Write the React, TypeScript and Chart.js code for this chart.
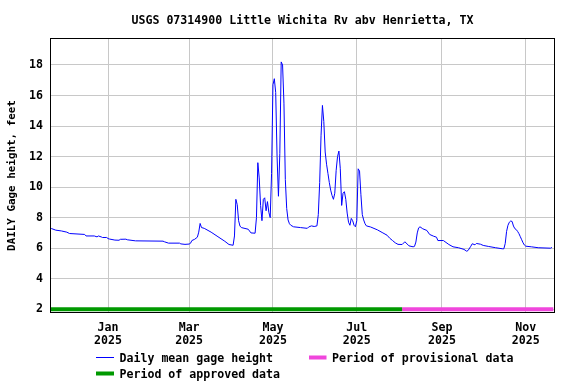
import React, { useEffect, useRef } from "react";
import { Chart, registerables } from "chart.js";

Chart.register(...registerables);

const TITLE = "USGS 07314900 Little Wichita Rv abv Henrietta, TX";
const Y_LABEL = "DAILY Gage height, feet";

// Daily mean gage height (feet)
const dates: string[] = [
  "2024-11-20", "2024-11-21", "2024-11-24", "2024-11-28", "2024-12-02", "2024-12-04",
  "2024-12-15", "2024-12-16", "2024-12-22", "2024-12-24", "2024-12-25", "2024-12-27",
  "2024-12-28", "2024-12-31", "2025-01-01", "2025-01-02", "2025-01-06", "2025-01-09",
  "2025-01-10", "2025-01-14", "2025-01-15", "2025-01-21", "2025-02-10", "2025-02-11",
  "2025-02-14", "2025-02-22", "2025-02-23", "2025-02-26", "2025-03-01", "2025-03-02",
  "2025-03-03", "2025-03-05", "2025-03-07", "2025-03-08", "2025-03-09", "2025-03-10",
  "2025-03-12", "2025-03-17", "2025-03-22", "2025-03-27", "2025-03-30", "2025-04-02",
  "2025-04-03", "2025-04-04", "2025-04-05", "2025-04-06", "2025-04-07", "2025-04-08",
  "2025-04-13", "2025-04-15", "2025-04-18", "2025-04-19", "2025-04-20", "2025-04-21",
  "2025-04-22", "2025-04-23", "2025-04-24", "2025-04-25", "2025-04-26", "2025-04-27",
  "2025-04-28", "2025-04-29", "2025-04-30", "2025-05-01", "2025-05-02", "2025-05-03",
  "2025-05-04", "2025-05-05", "2025-05-06", "2025-05-07", "2025-05-08", "2025-05-09",
  "2025-05-10", "2025-05-11", "2025-05-12", "2025-05-13", "2025-05-14", "2025-05-16",
  "2025-05-21", "2025-05-26", "2025-05-27", "2025-05-29", "2025-05-31", "2025-06-02",
  "2025-06-03", "2025-06-04", "2025-06-05", "2025-06-06", "2025-06-07", "2025-06-08",
  "2025-06-09", "2025-06-10", "2025-06-11", "2025-06-12", "2025-06-13", "2025-06-14",
  "2025-06-15", "2025-06-16", "2025-06-17", "2025-06-18", "2025-06-19", "2025-06-20",
  "2025-06-21", "2025-06-22", "2025-06-23", "2025-06-24", "2025-06-25", "2025-06-26",
  "2025-06-27", "2025-06-28", "2025-06-29", "2025-06-30", "2025-07-01", "2025-07-02",
  "2025-07-03", "2025-07-04", "2025-07-05", "2025-07-06", "2025-07-07", "2025-07-08",
  "2025-07-11", "2025-07-16", "2025-07-20", "2025-07-23", "2025-07-25", "2025-07-27",
  "2025-07-29", "2025-07-31", "2025-08-03", "2025-08-05", "2025-08-08", "2025-08-11",
  "2025-08-12", "2025-08-13", "2025-08-14", "2025-08-15", "2025-08-16", "2025-08-18",
  "2025-08-21", "2025-08-23", "2025-08-26", "2025-08-28", "2025-08-29", "2025-09-02",
  "2025-09-06", "2025-09-09", "2025-09-13", "2025-09-17", "2025-09-19", "2025-09-20",
  "2025-09-22", "2025-09-23", "2025-09-25", "2025-09-26", "2025-09-29", "2025-10-01",
  "2025-10-05", "2025-10-10", "2025-10-15", "2025-10-16", "2025-10-17", "2025-10-18",
  "2025-10-19", "2025-10-20", "2025-10-21", "2025-10-22", "2025-10-23", "2025-10-24",
  "2025-10-25", "2025-10-26", "2025-10-27", "2025-10-28", "2025-10-29", "2025-10-30",
  "2025-10-31", "2025-11-01", "2025-11-05", "2025-11-10", "2025-11-19", "2025-11-20",
];

const gageHeight: number[] = [
  7.3, 7.28, 7.18, 7.13, 7.05, 6.96,
  6.9, 6.8, 6.8, 6.74, 6.8, 6.74,
  6.7, 6.7, 6.63, 6.6, 6.53, 6.52,
  6.58, 6.59, 6.55, 6.48, 6.46, 6.42,
  6.33, 6.33, 6.28, 6.25, 6.27, 6.32,
  6.5, 6.58, 6.72, 7.05, 7.62, 7.35,
  7.3, 7.05, 6.75, 6.45, 6.24, 6.19,
  6.8, 9.2, 8.85, 7.8, 7.45, 7.35,
  7.24, 7.0, 6.98, 8.0, 11.6, 10.6,
  8.8, 7.8, 9.2, 9.3, 8.45, 9.05,
  8.35, 8.0, 10.9, 16.7, 17.1, 16.2,
  12.0, 9.4, 12.2, 18.2, 18.0, 15.5,
  10.5, 8.6, 7.85, 7.6, 7.5, 7.4,
  7.35, 7.3, 7.39, 7.46, 7.42, 7.46,
  8.2, 10.3, 13.4, 15.35, 14.3, 12.3,
  11.5, 10.9, 10.3, 9.8, 9.45, 9.2,
  9.6, 11.1, 12.0, 12.36, 11.2, 8.8,
  9.6, 9.7, 9.2, 8.3, 7.7, 7.5,
  7.95, 7.8, 7.5, 7.4, 7.8, 11.2,
  11.05, 9.5, 8.2, 7.85, 7.6, 7.46,
  7.39, 7.2, 7.0, 6.85, 6.65, 6.5,
  6.35, 6.25, 6.24, 6.42, 6.15, 6.09,
  6.12, 6.4, 7.0, 7.33, 7.4, 7.27,
  7.16, 6.9, 6.78, 6.72, 6.5, 6.5,
  6.24, 6.09, 6.03, 5.92, 5.8, 5.85,
  6.13, 6.29, 6.22, 6.31, 6.26, 6.18,
  6.11, 6.03, 5.96, 5.96, 6.3, 7.1,
  7.5, 7.7, 7.78, 7.75, 7.45, 7.28,
  7.22, 7.1, 6.95, 6.75, 6.55, 6.35,
  6.2, 6.13, 6.09, 6.03, 6.0, 6.05,
];

// Data-status periods (drawn as a bar at 2 ft)
const approvedPeriod: string[] = ["2024-11-20", "2025-08-03"];
const provisionalPeriod: string[] = ["2025-08-03", "2025-11-21"];
const periodLevel = 2;

// X axis ticks
const tickDates: string[] = ["2025-01-01", "2025-03-01", "2025-05-01", "2025-07-01", "2025-09-01", "2025-11-01"];
const tickMonths: string[] = ["Jan", "Mar", "May", "Jul", "Sep", "Nov"];
const tickYears: string[] = ["2025", "2025", "2025", "2025", "2025", "2025"];

// Y axis ticks
const yTicks: number[] = [2, 4, 6, 8, 10, 12, 14, 16, 18];

const legendLabels: string[] = ["Daily mean gage height", "Period of provisional data", "Period of approved data"];

const BLUE = "#0000ff";
const GREEN = "#009900";
const MAGENTA = "#f046dc";
const GRID = "#c8c8c8";
const FONT_FAMILY = "'DejaVu Sans Mono', 'Liberation Mono', monospace";

const toDay = (s: string): number => {
  const [y, m, d] = s.split("-").map(Number);
  return (Date.UTC(y, m - 1, d) - Date.UTC(2025, 0, 1)) / 86400000;
};

const X_MIN = toDay("2024-11-20") + 0.5;
const X_MAX = toDay("2025-11-21") + 0.5;

const decorPlugin = {
  id: "decor",
  beforeDatasetsDraw(chart: any) {
    const { ctx, chartArea } = chart;
    ctx.save();
    ctx.strokeStyle = "#000";
    ctx.lineWidth = 1;
    ctx.strokeRect(
      chartArea.left - 0.5,
      chartArea.top - 0.5,
      chartArea.right - chartArea.left + 1,
      chartArea.bottom - chartArea.top + 1
    );
    ctx.restore();
  },
  afterDraw(chart: any) {
    const { ctx, chartArea } = chart;
    ctx.save();
    ctx.fillStyle = "#000";
    // title
    ctx.font = `bold 11.6px ${FONT_FAMILY}`;
    ctx.textAlign = "center";
    ctx.textBaseline = "alphabetic";
    ctx.fillText(TITLE, (chartArea.left + chartArea.right) / 2, 24);
    // y label
    ctx.save();
    ctx.translate(12, (chartArea.top + chartArea.bottom) / 2);
    ctx.rotate(-Math.PI / 2);
    ctx.font = `bold 10.9px ${FONT_FAMILY}`;
    ctx.textAlign = "center";
    ctx.textBaseline = "middle";
    ctx.fillText(Y_LABEL, 0, 0);
    ctx.restore();
    // legend
    ctx.font = `bold 11.6px ${FONT_FAMILY}`;
    ctx.textAlign = "left";
    ctx.textBaseline = "alphabetic";
    ctx.strokeStyle = BLUE;
    ctx.lineWidth = 1;
    ctx.beginPath();
    ctx.moveTo(96, 357.5);
    ctx.lineTo(114, 357.5);
    ctx.stroke();
    ctx.fillText(legendLabels[0], 119.5, 361.5);
    ctx.fillStyle = MAGENTA;
    ctx.fillRect(309, 355.5, 17.5, 4);
    ctx.fillStyle = "#000";
    ctx.fillText(legendLabels[1], 332, 361.5);
    ctx.fillStyle = GREEN;
    ctx.fillRect(96, 371.5, 18, 4);
    ctx.fillStyle = "#000";
    ctx.fillText(legendLabels[2], 119.5, 378);
    ctx.restore();
  },
};

export default function App() {
  const canvasRef = useRef<HTMLCanvasElement | null>(null);

  useEffect(() => {
    document.body.style.margin = "0";
    const canvas = canvasRef.current;
    if (!canvas) return;

    const linePts = dates.map((d, i) => ({ x: toDay(d), y: gageHeight[i] }));
    const approvedPts = approvedPeriod.map((d) => ({ x: toDay(d), y: periodLevel }));
    const provisionalPts = provisionalPeriod.map((d) => ({ x: toDay(d), y: periodLevel }));
    const tickDays = tickDates.map(toDay);
    const tickFont = { family: FONT_FAMILY, size: 11.6, weight: "bold" as const, lineHeight: 1.14 };

    const chart = new Chart(canvas, {
      type: "line",
      data: {
        datasets: [
          {
            label: legendLabels[0],
            data: linePts,
            borderColor: BLUE,
            borderWidth: 1,
            pointRadius: 0,
            tension: 0,
            fill: false,
          },
          {
            label: legendLabels[2],
            data: approvedPts,
            borderColor: GREEN,
            borderWidth: 4,
            pointRadius: 0,
            borderCapStyle: "butt",
            fill: false,
          },
          {
            label: legendLabels[1],
            data: provisionalPts,
            borderColor: MAGENTA,
            borderWidth: 4,
            pointRadius: 0,
            borderCapStyle: "butt",
            fill: false,
          },
        ],
      },
      options: {
        responsive: false,
        animation: false,
        events: [],
        layout: { padding: { top: 39, right: 22, left: 0, bottom: 0 } },
        plugins: {
          legend: { display: false },
          tooltip: { enabled: false },
          title: { display: false },
        },
        scales: {
          x: {
            type: "linear",
            min: X_MIN,
            max: X_MAX,
            afterFit: (s: any) => {
              s.height = 72;
            },
            afterBuildTicks: (s: any) => {
              s.ticks = tickDays.map((v) => ({ value: v }));
            },
            ticks: {
              autoSkip: false,
              maxRotation: 0,
              minRotation: 0,
              padding: 9,
              color: "#000",
              font: tickFont,
              callback: (v: any) => {
                const i = tickDays.indexOf(Number(v));
                return i >= 0 ? [tickMonths[i], tickYears[i]] : "";
              },
            },
            grid: { color: GRID, lineWidth: 1, drawTicks: false },
            border: { display: false },
          },
          y: {
            type: "linear",
            min: 1.82,
            max: 19.7,
            afterFit: (s: any) => {
              s.width = 51;
            },
            afterBuildTicks: (s: any) => {
              s.ticks = yTicks.map((v) => ({ value: v }));
            },
            ticks: {
              padding: 8,
              color: "#000",
              font: tickFont,
              callback: (v: any) => String(v),
            },
            grid: { color: GRID, lineWidth: 1, drawTicks: false },
            border: { display: false },
          },
        },
      },
      plugins: [decorPlugin],
    });

    return () => {
      chart.destroy();
    };
  }, []);

  return (
    <div style={{ width: 576, height: 384 }}>
      <canvas ref={canvasRef} width={576} height={384} style={{ display: "block", width: 576, height: 384 }} />
    </div>
  );
}
